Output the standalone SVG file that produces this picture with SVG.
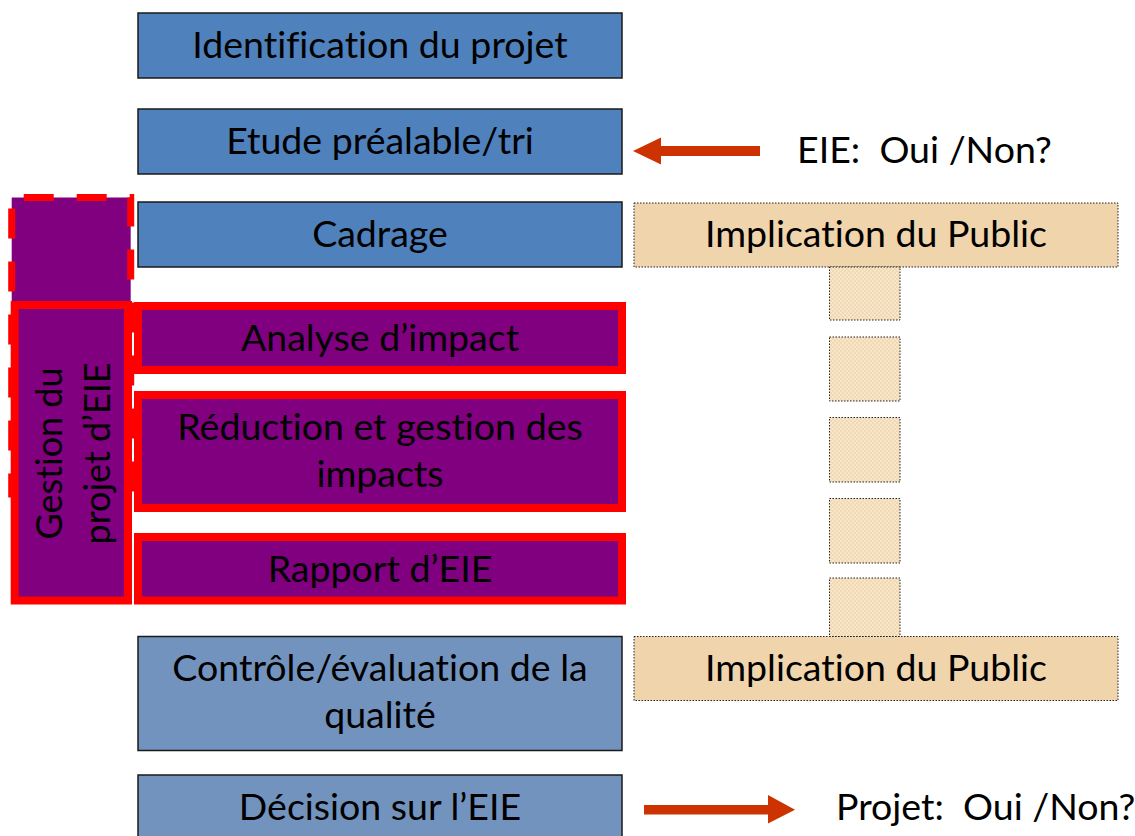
<svg xmlns="http://www.w3.org/2000/svg" width="1135" height="836" viewBox="0 0 1135 836">
<defs>
<pattern id="dots" width="4" height="4" patternUnits="userSpaceOnUse">
<rect width="4" height="4" fill="#f1d9b3"/>
<circle cx="1" cy="1" r="0.9" fill="#fbecd6"/>
<circle cx="3" cy="3" r="0.9" fill="#fbecd6"/>
</pattern>
</defs>
<style>
text{font-family:Lato,"Liberation Sans",sans-serif;font-size:37.5px;fill:#000;text-anchor:middle;font-variant-ligatures:none;white-space:pre}
.blue{fill:#4f81bd;stroke:#1a1a1a;stroke-width:1.5}
.grey{fill:#7393bf;stroke:#1a1a1a;stroke-width:1.5}
.purple{fill:#800080;stroke:#ff0000;stroke-width:8}
.beige{fill:#f0d4ab;stroke:#222;stroke-width:1;stroke-dasharray:1.5 1.5}
.small{fill:url(#dots);stroke:#222;stroke-width:1;stroke-dasharray:1.5 1.5}
.arrow{fill:#cc3300}
.plain{text-anchor:start}
.vert{font-size:36px}
</style>
<rect width="1135" height="836" fill="#fff"/>

<g id="gestion-dashed">
<rect x="11.7" y="197.5" width="119" height="300" fill="#800080"/>
<path d="M11.7,497.5 V197.5 H130.7 V497.5" fill="none" stroke="#ff0000" stroke-width="7" stroke-dasharray="30 23" stroke-dashoffset="6"/>
</g>
<g id="gestion">
<rect x="14.7" y="305" width="113.3" height="295.5" class="purple" stroke-width="7.5"/>
<text class="vert" transform="translate(61.5,453.5) rotate(-90)">Gestion du</text>
<text class="vert" transform="translate(110,453.5) rotate(-90)">projet d’EIE</text>
</g>

<g id="identification">
<rect x="138" y="13" width="484" height="65" class="blue"/>
<text x="380" y="58">Identification du projet</text>
</g>
<g id="etude">
<rect x="138" y="109" width="484" height="65" class="blue"/>
<text x="380" y="154">Etude préalable/tri</text>
</g>
<g id="cadrage">
<rect x="138" y="202" width="484" height="65" class="blue"/>
<text x="380" y="247">Cadrage</text>
</g>
<g id="analyse">
<rect x="138" y="306" width="484" height="64" class="purple"/>
<text x="380" y="351">Analyse d’impact</text>
</g>
<g id="reduction">
<rect x="138" y="395" width="484" height="113" class="purple"/>
<text x="380" y="440">Réduction et gestion des</text>
<text x="380" y="487">impacts</text>
</g>
<g id="rapport">
<rect x="138" y="537" width="484" height="63.5" class="purple"/>
<text x="380" y="582">Rapport d’EIE</text>
</g>
<g id="controle">
<rect x="138" y="636.5" width="484" height="114" class="grey"/>
<text x="380" y="681">Contrôle/évaluation de la</text>
<text x="380" y="728">qualité</text>
</g>
<g id="decision">
<rect x="138" y="775" width="484" height="70" class="grey"/>
<text x="380" y="820">Décision sur l’EIE</text>
</g>

<g id="public1">
<rect x="634" y="203" width="484" height="64" class="beige"/>
<text x="876" y="247">Implication du Public</text>
</g>
<g id="link1"><rect x="829.5" y="267" width="70.5" height="53" class="small"/></g>
<g id="link2"><rect x="829.5" y="337" width="70.5" height="64" class="small"/></g>
<g id="link3"><rect x="829.5" y="417.5" width="70.5" height="64.5" class="small"/></g>
<g id="link4"><rect x="829.5" y="498.5" width="70.5" height="64.5" class="small"/></g>
<g id="link5"><rect x="829.5" y="578" width="70.5" height="58.5" class="small"/></g>
<g id="public2">
<rect x="634" y="636.5" width="484" height="64" class="beige"/>
<text x="876" y="681">Implication du Public</text>
</g>

<g id="label-eie"><text x="797" y="163" class="plain">EIE:  Oui /Non?</text></g>
<g id="label-projet"><text x="836" y="820" class="plain">Projet:  Oui /Non?</text></g>

<g id="connectors">
<rect x="660" y="146" width="100" height="10" class="arrow"/>
<polygon points="633,151 661,137.5 661,164.5" class="arrow"/>
<rect x="644" y="805" width="125" height="9.5" class="arrow"/>
<polygon points="768,795 795,809.7 768,823.5" class="arrow"/>
</g>
</svg>
